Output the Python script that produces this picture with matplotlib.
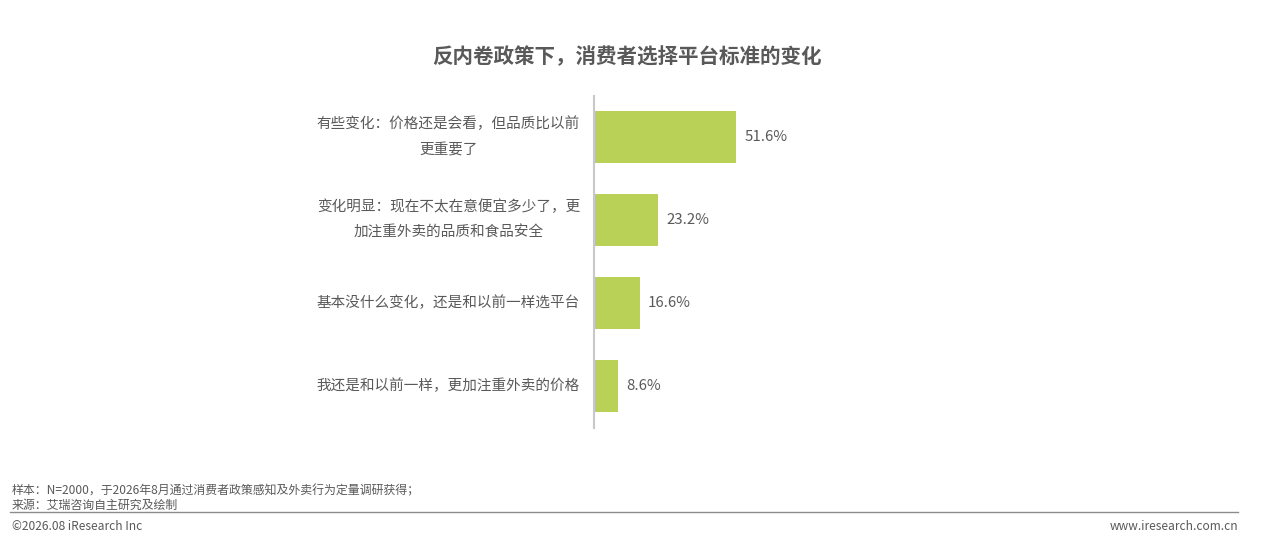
import matplotlib
matplotlib.use("Agg")
import matplotlib.pyplot as plt

plt.rcParams['font.family'] = ['Noto Sans CJK SC', 'DejaVu Sans']

# dados
categorias = [
    "有些变化：价格还是会看，但品质比以前\n更重要了",
    "变化明显：现在不太在意便宜多少了，更\n加注重外卖的品质和食品安全",
    "基本没什么变化，还是和以前一样选平台",
    "我还是和以前一样，更加注重外卖的价格",
]
valores = [51.6, 23.2, 16.6, 8.6]
titulo = "反内卷政策下，消费者选择平台标准的变化"
nota_amostra = "样本：N=2000，于2026年8月通过消费者政策感知及外卖行为定量调研获得；"
nota_fonte = "来源：艾瑞咨询自主研究及绘制"
copyright_txt = "©2026.08 iResearch Inc"
site_txt = "www.iresearch.com.cn"

cinza = "#595959"
verde = "#b9d156"

fig = plt.figure(figsize=(12.69, 5.4), dpi=100)
ax = fig.add_axes([594 / 1269, 1 - 427.5 / 540, 165 / 1269, 332 / 540])

pos = list(range(len(valores)))
ax.barh(pos, valores, height=0.63, color=verde)
ax.set_ylim(len(valores) - 0.5, -0.5)
ax.set_xlim(0, 60)

for p, v in zip(pos, valores):
    ax.text(v + 3, p, f"{v}%", va="center", ha="left", fontsize=10.8, color=cinza)

ax.set_yticks(pos)
ax.set_yticklabels(categorias, fontsize=10.5, color=cinza, multialignment="center",
                   linespacing=2.05)
for lbl in ax.get_yticklabels():
    lbl.set_va("center")  # centra bloco de texto
ax.tick_params(axis="y", length=0, pad=10)
ax.set_xticks([])
for s in ["top", "right", "bottom"]:
    ax.spines[s].set_visible(False)
ax.spines["left"].set_color("#c8c8c8")
ax.spines["left"].set_linewidth(1.5)

fig.text(627 / 1269, 1 - 57 / 540, titulo, ha="center", va="center",
         fontsize=14.8, fontweight="bold", color=cinza)

fig.text(12 / 1269, 1 - 491 / 540, nota_amostra, ha="left", va="center", fontsize=8.6, color=cinza)
fig.text(12 / 1269, 1 - 505 / 540, nota_fonte, ha="left", va="center", fontsize=8.6, color=cinza)
fig.add_artist(plt.Line2D([10 / 1269, 1238 / 1269], [1 - 512 / 540, 1 - 512 / 540],
                          color="#8c8c8c", linewidth=1))
fig.text(12 / 1269, 1 - 526 / 540, copyright_txt, ha="left", va="center", fontsize=8.6, color=cinza)
fig.text(1238 / 1269, 1 - 526 / 540, site_txt, ha="right", va="center", fontsize=8.6, color=cinza)

fig.savefig("out.png", dpi=100)
